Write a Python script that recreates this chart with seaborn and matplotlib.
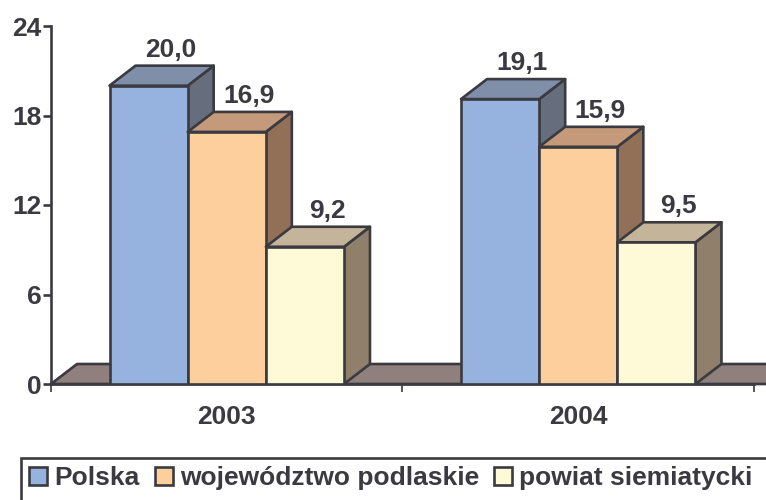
import pandas as pd
import matplotlib
matplotlib.use('Agg')
import matplotlib.pyplot as plt
from matplotlib.patches import Polygon, Rectangle
import seaborn as sns

# data
years = ['2003', '2004']
regions = ['Polska', 'województwo podlaskie', 'powiat siemiatycki']
polska = [20.0, 19.1]
podlaskie = [16.9, 15.9]
siemiatycki = [9.2, 9.5]
y_ticks = [0, 6, 12, 18, 24]

front_colors = ['#95b3de', '#fdcf9c', '#fef9d6']
top_colors = ['#7f8fa9', '#c49a7a', '#c4b59a']
side_colors = ['#666e7e', '#927058', '#8f7f6b']
floor_color = '#8f7f7d'
ink = '#3a3a40'
font_size = 19
line_w = 1.9

sns.set_theme(style='white')
plt.rcParams['font.family'] = ['Liberation Sans', 'DejaVu Sans']
plt.rcParams['font.weight'] = 'bold'

df = pd.DataFrame({
    'rok': years * 3,
    'region': [regions[0]] * 2 + [regions[1]] * 2 + [regions[2]] * 2,
    'wartosc': polska + podlaskie + siemiatycki,
})

W, H = 766, 500
fig = plt.figure(figsize=(W / 100, H / 100), dpi=100)
ax = fig.add_axes([51 / W, 1 - 384 / H, 703 / W, 358 / H])

sns.barplot(data=df, x='rok', y='wartosc', hue='region', hue_order=regions,
            palette=front_colors, width=0.667, gap=0, saturation=1,
            edgecolor=ink, linewidth=line_w, ax=ax)

ax.set_xlim(-0.5, 1.5)
ax.set_ylim(0, 24)
ax.set_xlabel('')
ax.set_ylabel('')

# depth of the fake 3D boxes, in data units (26 px across, 20 px up)
dx = 26 / 703 * 2
dy = 20 / 358 * 24


def box_part(points, color, z):
    ax.add_patch(Polygon(points, closed=True, facecolor=color, edgecolor=ink,
                         linewidth=line_w, joinstyle='round', clip_on=False,
                         zorder=z))


# floor
box_part([(-0.5, 0), (-0.5 + dx, dy), (1.5 + 2 * dx, dy), (1.5 + dx, 0)], floor_color, 1)

for i, container in enumerate(ax.containers):
    for bar in container:
        x0 = bar.get_x()
        x1 = x0 + bar.get_width()
        h = bar.get_height()
        z = 3 + i
        box_part([(x1, 0), (x1 + dx, dy), (x1 + dx, h + dy), (x1, h)], side_colors[i], z)
        box_part([(x0, h), (x0 + dx, h + dy), (x1 + dx, h + dy), (x1, h)], top_colors[i], z)
        bar.set_zorder(z + 0.5)
        ax.annotate(f'{h:.1f}'.replace('.', ','),
                    xy=((x0 + x1) / 2 + dx * 0.85, h + dy), xytext=(0, 6.5),
                    textcoords='offset points', ha='center', va='baseline',
                    fontsize=font_size, fontweight='bold', color=ink,
                    annotation_clip=False, zorder=10)

# axes
sns.despine(ax=ax)
for side in ['left', 'bottom']:
    ax.spines[side].set_color(ink)
    ax.spines[side].set_linewidth(line_w)
    ax.spines[side].set_zorder(2)

ax.set_yticks(y_ticks)
ax.tick_params(axis='y', length=5.5, width=line_w, color=ink, left=True, labelsize=font_size,
               labelcolor=ink, pad=1.5)
ax.set_xticks([-0.5, 0.5, 1.5], minor=True)
ax.tick_params(axis='x', which='minor', length=5.5, width=1.2, color=ink, bottom=True)
ax.tick_params(axis='x', which='major', length=0, labelsize=font_size, labelcolor=ink, pad=15)

# legend at the bottom, its frame runs off the picture so it is drawn apart
handles, labels = ax.get_legend_handles_labels()
ax.legend_.remove()
fig.legend(handles, labels, loc='upper left', bbox_to_anchor=(21 / W, 1 - 458 / H),
           ncol=3, frameon=False, borderaxespad=0, borderpad=0.32,
           handlelength=0.68, handleheight=0.68, handletextpad=0.27,
           columnspacing=0.57, prop={'size': font_size, 'weight': 'bold'},
           labelcolor=ink)
fig.add_artist(Rectangle((21 / W, -0.05), 1, 1 - 458 / H + 0.05, transform=fig.transFigure,
                         facecolor='none', edgecolor=ink, linewidth=line_w))

fig.savefig('out.png', dpi=100)
